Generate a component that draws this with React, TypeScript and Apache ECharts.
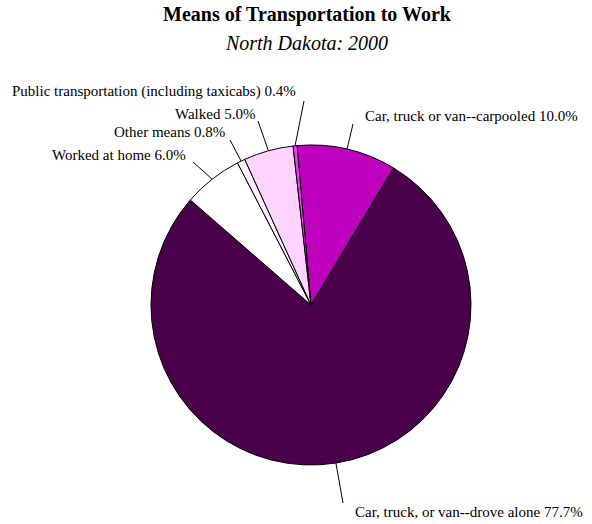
import React, { useEffect, useRef } from "react";
import * as echarts from "echarts";

const titleText = "Means of Transportation to Work";
const subtitleText = "North Dakota: 2000";
const categories = [
  "Car, truck or van--carpooled",
  "Car, truck, or van--drove alone",
  "Worked at home",
  "Other means",
  "Walked",
  "Public transportation (including taxicabs)",
];
const values = [10.0, 77.7, 6.0, 0.8, 5.0, 0.4];
const colors = ["#BF00BF", "#4B004B", "#FFFFFF", "#FFF0FF", "#FFD3FF", "#FF33FF"];
// label anchor (left edge x, middle y) and leader line end
const labelPos: [number, number][] = [
  [365, 116],
  [355, 512],
  [52, 155],
  [114, 132],
  [175, 114],
  [12, 91],
];
const lineEnd: [number, number][] = [
  [353, 124],
  [343, 503],
  [193, 162],
  [230, 140],
  [258, 121],
  [304, 101],
];

export default function App() {
  const ref = useRef<HTMLDivElement>(null);
  useEffect(() => {
    document.body.style.margin = "0";
    const chart = echarts.init(ref.current!, null, { renderer: "svg" });
    chart.setOption({
      animation: false,
      backgroundColor: "#fff",
      graphic: [
        {
          type: "text",
          x: 307,
          y: 14,
          style: {
            text: titleText,
            fontFamily: "Liberation Serif",
            fontWeight: "bold",
            fontSize: 20,
            fill: "#000",
            align: "center",
            verticalAlign: "middle",
          },
        },
        {
          type: "text",
          x: 307,
          y: 43,
          style: {
            text: subtitleText,
            fontFamily: "Liberation Serif",
            fontStyle: "italic",
            fontSize: 20,
            fill: "#000",
            align: "center",
            verticalAlign: "middle",
          },
        },
      ],
      series: [
        {
          type: "pie",
          center: [311, 305],
          radius: 160,
          startAngle: 95,
          clockwise: true,
          data: categories.map((c, i) => ({
            name: c,
            value: values[i],
            itemStyle: { color: colors[i] },
          })),
          itemStyle: { borderColor: "#000", borderWidth: 1 },
          label: {
            show: true,
            formatter: (p: any) => `${p.name} ${values[p.dataIndex].toFixed(1)}%`,
            fontFamily: "Liberation Serif",
            fontSize: 15,
            color: "#000",
            overflow: "none",
          },
          labelLine: {
            show: true,
            lineStyle: { color: "#000", width: 1 },
          },
          labelLayout: (params: any) => {
            const i = params.dataIndex;
            const start = params.labelLinePoints ? params.labelLinePoints[0] : lineEnd[i];
            return {
              x: labelPos[i][0],
              y: labelPos[i][1],
              width: 400,
              align: "left",
              verticalAlign: "middle",
              labelLinePoints: [start, lineEnd[i], lineEnd[i]],
            };
          },
          emphasis: { disabled: true },
        },
      ],
    });
    return () => chart.dispose();
  }, []);
  return <div ref={ref} style={{ width: 592, height: 524 }} />;
}
